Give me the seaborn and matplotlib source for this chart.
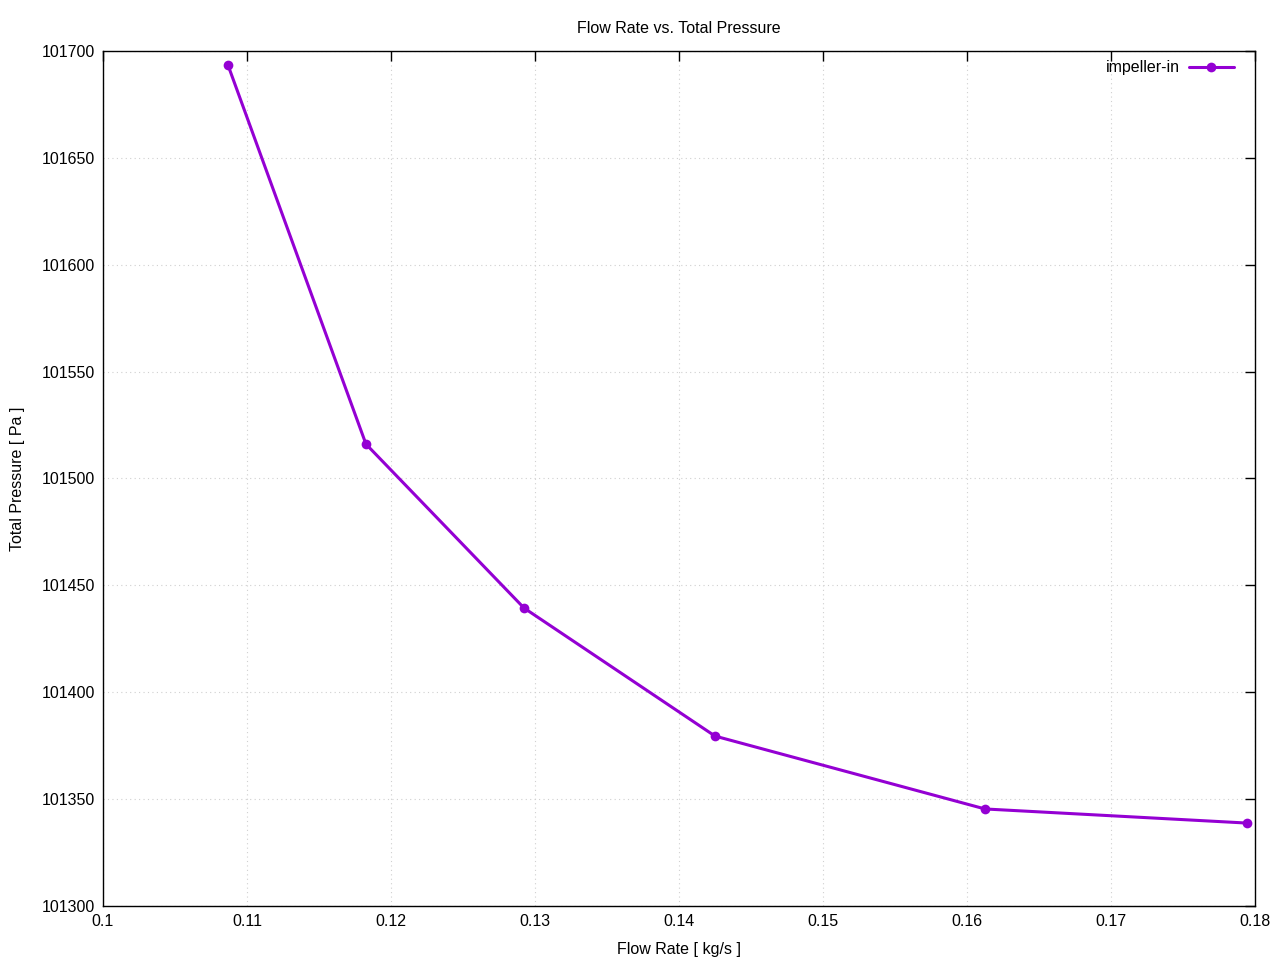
import matplotlib
matplotlib.use('Agg')
import matplotlib.pyplot as plt
import seaborn as sns
import pandas as pd

# values
flow_rate = [0.10868, 0.11826, 0.12924, 0.14250, 0.16125, 0.17944]
total_pressure = [101693.4, 101516.1, 101439.4, 101379.5, 101345.4, 101338.8]
series_name = "impeller-in"

sns.set_theme(style="white")
plt.rcParams['font.family'] = ['Liberation Sans', 'DejaVu Sans']
plt.rcParams['text.color'] = 'black'
plt.rcParams['axes.labelcolor'] = 'black'

df = pd.DataFrame({"Flow Rate": flow_rate, "Total Pressure": total_pressure, "series": series_name})

fig = plt.figure(figsize=(12.8, 9.6), dpi=100)
ax = fig.add_axes([103 / 1280, 1 - 906 / 960, 1152 / 1280, 855 / 960])

sns.lineplot(data=df, x="Flow Rate", y="Total Pressure", hue="series",
             palette=["#9400D3"], marker="o", markersize=7, markeredgewidth=0,
             linewidth=2.2, ax=ax)

ax.set_xlim(0.1, 0.18)
ax.set_ylim(101300, 101700)
ax.set_xticks([0.1, 0.11, 0.12, 0.13, 0.14, 0.15, 0.16, 0.17, 0.18])
ax.set_xticklabels(["0.1", "0.11", "0.12", "0.13", "0.14", "0.15", "0.16", "0.17", "0.18"])
ax.set_yticks(range(101300, 101701, 50))
ax.set_yticklabels([str(v) for v in range(101300, 101701, 50)])

ax.grid(True, color="#d0d0d0", linestyle=(0, (1, 3)), linewidth=0.8)
ax.tick_params(direction="in", length=7, width=1, top=True, right=True,
               labelsize=11.5, colors="black", pad=6)
for s in ax.spines.values():
    s.set_color("black")
    s.set_linewidth(1)

ax.set_xlabel("Flow Rate [ kg/s ]", fontsize=11.5, labelpad=9)
ax.set_ylabel("Total Pressure [ Pa ]", fontsize=11.5, labelpad=11.5)
ax.set_title("Flow Rate vs. Total Pressure", fontsize=11.5, pad=13)

ax.legend(loc="upper right", frameon=False, fontsize=11.5, markerfirst=False,
          handlelength=2.8, handletextpad=0.6, borderaxespad=0.3,
          bbox_to_anchor=(1 - 10 / 1152, 1 + 2 / 855))

fig.savefig("out.png", dpi=100)
